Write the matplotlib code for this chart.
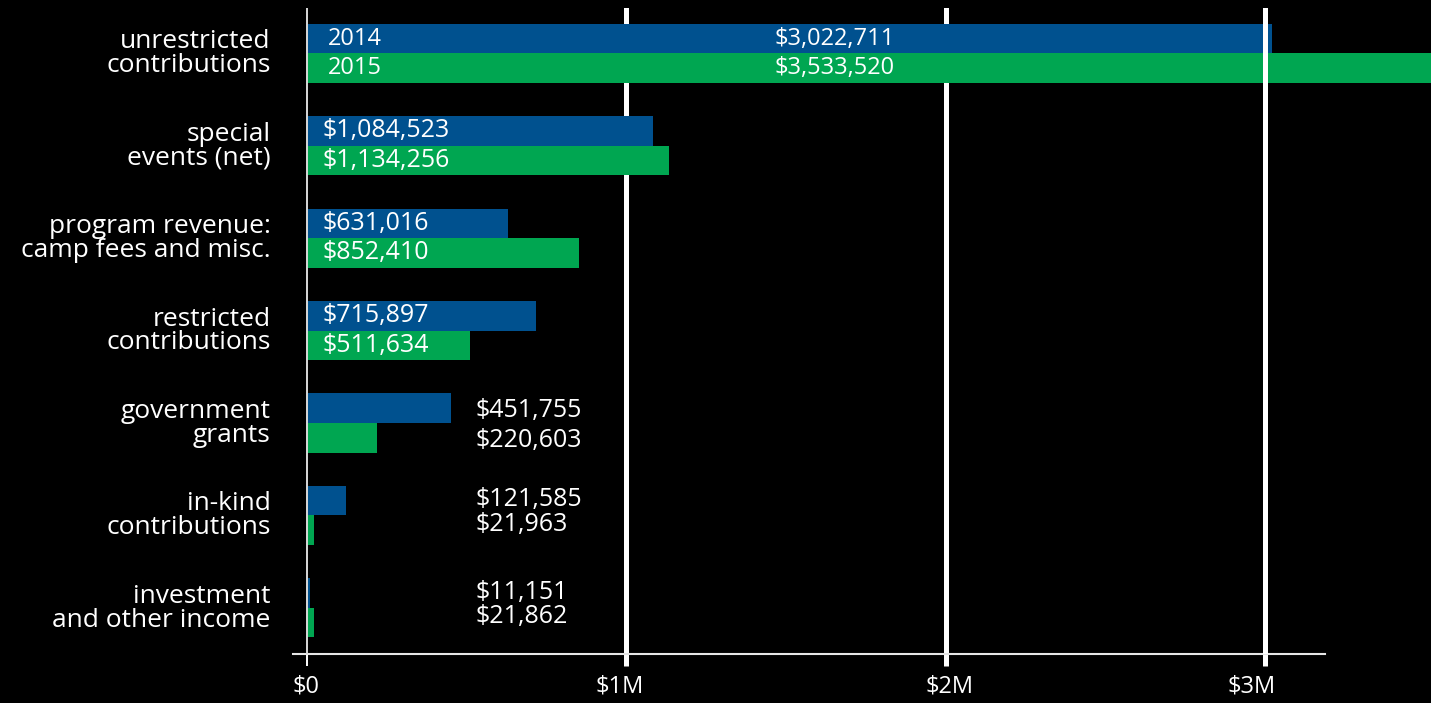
import matplotlib
matplotlib.use("Agg")
import matplotlib.pyplot as plt
import matplotlib.transforms as mtransforms
import numpy as np

# revenue categories (top to bottom)
categories = [
    "unrestricted\ncontributions",
    "special\nevents (net)",
    "program revenue:\ncamp fees and misc.",
    "restricted\ncontributions",
    "government\ngrants",
    "in-kind\ncontributions",
    "investment\nand other income",
]
years = ["2014", "2015"]
values_2014 = [3022711, 1084523, 631016, 715897, 451755, 121585, 11151]
values_2015 = [3533520, 1134256, 852410, 511634, 220603, 21963, 21862]
tick_values = [0, 1_000_000, 2_000_000, 3_000_000]
tick_labels = ["$0", "$1M", "$2M", "$3M"]

BLUE = "#00518f"
GREEN = "#00a651"

plt.rcParams["font.family"] = ["Open Sans", "DejaVu Sans"]

fig = plt.figure(figsize=(14.31, 7.03), dpi=100, facecolor="black")
ax = fig.add_axes([0.2047, 0.0697, 0.7212, 0.9189], facecolor="black")

y = np.arange(len(categories))
h = 0.32
ax.barh(y - h / 2, values_2014, height=h, color=BLUE, clip_on=False, zorder=2)
ax.barh(y + h / 2, values_2015, height=h, color=GREEN, clip_on=False, zorder=2)

ax.set_xlim(-43800, 3187000)
ax.set_ylim(6.5, -0.49)

# gridlines: $1M and $2M sit behind the bars, $3M on top
for v in tick_values[1:]:
    ax.axvline(v, color="white", lw=3.6, zorder=1 if v < 3_000_000 else 3)
ax.axvline(0, color="#d9d9d9", lw=1.4, zorder=3)

ax.set_xticks(tick_values)
ax.set_xticklabels(tick_labels)
ax.tick_params(axis="x", colors="white", length=8.6, width=3.6, pad=6,
               labelsize=17)
t0 = ax.xaxis.get_major_ticks()[0]
t0.tick1line.set_markeredgewidth(1.4)
t0.tick1line.set_color("#d9d9d9")
# the tick labels are not quite centred under their ticks
for lab, dx in zip(ax.get_xticklabels(), [-1, -7, 4, -14]):
    lab.set_transform(lab.get_transform() +
                      mtransforms.ScaledTranslation(dx / 100, 0, fig.dpi_scale_trans))

ax.set_yticks(y)
ax.set_yticklabels(categories, fontsize=19, color="white", linespacing=0.94)
ax.tick_params(axis="y", length=0, pad=16)
for lab in ax.get_yticklabels():
    lab.set_transform(lab.get_transform() +
                      mtransforms.ScaledTranslation(0, 2 / 100, fig.dpi_scale_trans))

for s in ["top", "right", "left"]:
    ax.spines[s].set_visible(False)
ax.spines["bottom"].set_color("#e6e6e6")
ax.spines["bottom"].set_linewidth(1.5)


def label(x, yy, s, size=18):
    ax.text(x, yy, s, color="white", fontsize=size, va="center", zorder=4)


# value labels
for i, (a, b) in enumerate(zip(values_2014, values_2015)):
    ya, yb = i - h / 2, i + h / 2
    if i == 0:
        label(66000, ya, years[0], 17)
        label(66000, yb, years[1], 17)
        label(1465000, ya, f"${a:,}", 17)
        label(1465000, yb, f"${b:,}", 17)
    elif i < 4:
        label(50000, ya, f"${a:,}")
        label(50000, yb, f"${b:,}")
    elif i == 4:
        label(529000, ya + 0.02, f"${a:,}")
        label(529000, yb + 0.03, f"${b:,}")
    else:
        label(529000, ya - 0.01, f"${a:,}")
        label(529000, yb - 0.065, f"${b:,}")

fig.savefig("out.png", dpi=100, facecolor="black")
